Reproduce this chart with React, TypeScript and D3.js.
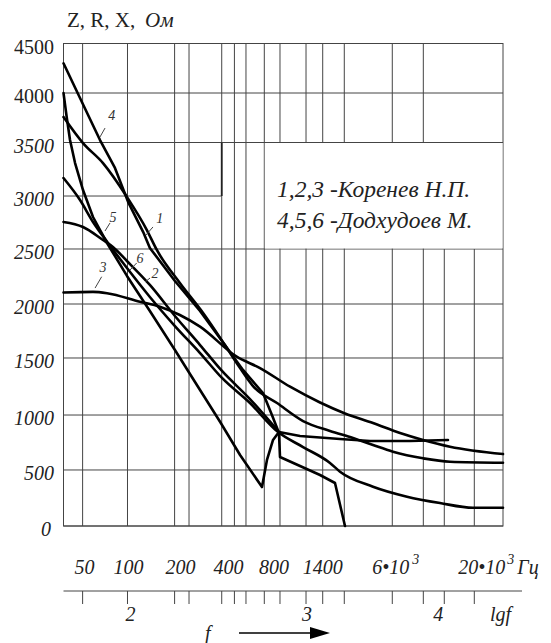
import React from 'react';
import * as d3 from 'd3';

const W = 551;
const H = 643;

// ---------- data ----------
// vertical grid lines of the (hand drawn, non-uniform) log-frequency axis, Hz
const gridFreqs = [50, 100, 200, 250, 350, 400, 500, 700, 800, 1000, 1400, 2000, 6000, 8000, 10000, 20000];
const fMin = 37;
const fMax = 39000;
const yTicks = [0, 500, 1000, 1500, 2000, 2500, 3000, 3500, 4000, 4500];
const yTickLabels = ['0', '500', '1000', '1500', '2000', '2500', '3000', '3500', '4000', '4500'];
const fTickValues = [50, 100, 200, 400, 800, 1400];
const fTickLabels = ['50', '100', '200', '400', '800', '1400'];
const lgTickValues = [100, 1000, 10000];
const lgTickLabels = ['2', '3', '4'];

// curves: frequency (Hz) and impedance (Ohm)
const c1F = [37, 50.3, 68.5, 99.2, 133, 154, 217, 289, 362, 446, 569, 780, 975, 1579, 2441, 3858, 6040, 7980, 11410, 39000];
const c1Z = [3758, 3495, 3308, 2991, 2679, 2491, 2191, 1917, 1620, 1412, 1254, 1105, 945, 855, 791, 727, 666, 606, 575, 566];

const c2F = [37, 48, 58.7, 74, 99.2, 139, 201, 280, 351, 538, 787, 975, 1579, 1863, 3858, 6878, 9554, 19410, 39000];
const c2Z = [3168, 2962, 2755, 2557, 2327, 2064, 1796, 1546, 1325, 1105, 845, 709, 564, 485, 351, 262, 205, 163, 163];

const c3F = [37, 58.7, 72.9, 120, 161, 217, 280, 418, 647, 872, 1326, 2032, 3858, 6447, 7980, 11410, 39000];
const c3Z = [2105, 2110, 2098, 2021, 1975, 1898, 1790, 1512, 1412, 1248, 1110, 1014, 927, 836, 773, 712, 645];

const c4F = [37, 54.3, 65.4, 82.4, 101, 126, 139, 201, 280, 351, 472, 683, 747, 793, 800, 950, 1326, 1715, 2032];
const c4Z = [4300, 3780, 3525, 3262, 2943, 2660, 2510, 2209, 1935, 1657, 1395, 1193, 1000, 836, 618, 536, 455, 384, 0];

const c5F = [37, 38.9, 41, 44.4, 50.3, 58.7, 72.9, 99.2, 139, 201, 280, 344, 446, 671, 716, 754, 793, 950, 1863, 3602, 7072, 10890];
const c5Z = [4000, 3758, 3525, 3308, 3056, 2802, 2557, 2255, 1935, 1574, 1219, 939, 636, 348, 591, 773, 845, 809, 782, 764, 764, 773];

const c6F = [37, 50.3, 68.5, 79.9, 99.2, 139, 201, 280, 351, 538, 787];
const c6Z = [2755, 2708, 2585, 2519, 2391, 2173, 1889, 1620, 1386, 1140, 855];

// curve number labels: text position and leader line (Hz, Ohm)
const labelText = ['4', '5', '1', '6', '2', '3'];
const labelF = [78.3, 79.9, 161, 120, 150, 68.5];
const labelZ = [3778, 2802, 2793, 2418, 2282, 2336];
const leadF0 = [70.7, 76.3, 145.5, 114.5, 139.3, 67.1];
const leadZ0 = [3646, 2745, 2708, 2373, 2236, 2248];
const leadF1 = [65.4, 70.7, 131.3, 103.8, 129.4, 60.6];
const leadZ1 = [3556, 2670, 2632, 2309, 2200, 2145];

const legendLines = ['1,2,3 -Коренев Н.П.', '4,5,6 -Додхудоев М.'];

// ---------- layout ----------
const L = 63.5;
const T = 43.5;
const PW = 439.5;
const PH = 482.5;
// where each break of the hand drawn axes falls, as a fraction of the plot
const xBreakFrac = [0, 0.0435, 0.1456, 0.2528, 0.2856, 0.36, 0.3889, 0.4152, 0.4569, 0.4926, 0.5518, 0.5898, 0.6389, 0.7481, 0.8187, 0.8664, 0.9347, 1];
const yBreakFrac = [1, 0.8839, 0.77, 0.6518, 0.5399, 0.4259, 0.3161, 0.2052, 0.1026, 0];
const fLabelNudge = [2, 1, 6, -6, -6, 0];
const lgLabelNudge = [3, 1, -6];

const FONT = 'Liberation Serif';
const GRID = '#444';

function T_(props: any) {
  const { italic, children, ...rest } = props;
  return (
    <text
      {...rest}
      fontFamily={FONT}
      fontStyle={italic ? 'italic' : 'normal'}
      style={{ fontFamily: "'" + FONT + "'", fontStyle: italic ? 'italic' : 'normal' }}
    >
      {children}
    </text>
  );
}

export default function App() {
  const xs = d3
    .scaleLinear()
    .domain([fMin, ...gridFreqs, fMax].map(Math.log10))
    .range(xBreakFrac.map((t) => L + t * PW));
  const x = (f: number) => xs(Math.log10(f));
  const y = d3
    .scaleLinear()
    .domain(yTicks)
    .range(yBreakFrac.map((t) => T + t * PH));

  const R = x(fMax);
  const B = y(0);

  const smooth = d3
    .line<[number, number]>()
    .x((d) => x(d[0]))
    .y((d) => y(d[1]))
    .curve(d3.curveMonotoneX);
  const straight = d3
    .line<[number, number]>()
    .x((d) => x(d[0]))
    .y((d) => y(d[1]))
    .curve(d3.curveLinear);

  const zip = (a: number[], b: number[]) => a.map((v, i) => [v, b[i]] as [number, number]);
  const curves = [
    smooth(zip(c1F, c1Z)),
    smooth(zip(c2F, c2Z)),
    smooth(zip(c3F, c3Z)),
    straight(zip(c4F, c4Z)),
    straight(zip(c5F, c5Z)),
    smooth(zip(c6F, c6Z)),
  ];

  const boxX0 = x(700);
  const boxY0 = y(3500);
  const boxY1 = y(2500);

  const axisY = 591;

  return (
    <svg width={W} height={H} style={{ position: 'absolute', left: 0, top: 0 }}>
      <rect x={0} y={0} width={W} height={H} fill="#fff" />

      {/* horizontal grid */}
      {yTicks.map((v) => (
        <line key={'h' + v} x1={L} x2={v === 3000 ? x(350) : R} y1={y(v)} y2={y(v)} stroke={GRID} strokeWidth={1} />
      ))}
      {/* vertical grid */}
      {gridFreqs.map((f) => (
        <line key={'v' + f} x1={x(f)} x2={x(f)} y1={f >= 10000 ? boxY1 : T} y2={B} stroke={GRID} strokeWidth={1} />
      ))}
      <line x1={x(350)} x2={x(350)} y1={y(3500)} y2={y(3000)} stroke="#222" strokeWidth={1.8} />
      {/* frame */}
      <rect x={L} y={T} width={R - L} height={B - T} fill="none" stroke={GRID} strokeWidth={1} />

      {/* legend box */}
      <rect x={boxX0 + 0.5} y={boxY0 + 0.5} width={R - boxX0 - 1} height={boxY1 - boxY0 - 1} fill="#fff" />
      {legendLines.map((t, i) => (
        <T_ key={t} x={277} y={197 + i * 31} fontSize={23.5} fill="#222" italic>
          {t}
        </T_>
      ))}

      {/* curves */}
      {curves.map((d, i) => (
        <path key={i} d={d || ''} fill="none" stroke="#000" strokeWidth={2.6} strokeLinejoin="round" strokeLinecap="round" />
      ))}

      {/* curve labels */}
      {labelText.map((t, i) => (
        <g key={'lab' + i}>
          <line x1={x(leadF0[i])} y1={y(leadZ0[i])} x2={x(leadF1[i])} y2={y(leadZ1[i])} stroke="#444" strokeWidth={1} />
          <T_ x={x(labelF[i])} y={y(labelZ[i]) + 5} fontSize={14} textAnchor="middle" fill="#333" italic>
            {t}
          </T_>
        </g>
      ))}

      {/* y tick labels */}
      {yTicks.map((v, i) => (
        <T_ key={'yl' + v} x={v === 0 ? 51 : 54} y={y(v) + 10} fontSize={20} textAnchor="end" fill="#222" italic={v < 4000}>
          {yTickLabels[i]}
        </T_>
      ))}

      {/* axis title */}
      <T_ x={67} y={27} fontSize={21} fill="#222">
        Z, R, X,
      </T_>
      <T_ x={145} y={27} fontSize={21} fill="#222" italic>
        Ом
      </T_>

      {/* lower frequency axis */}
      <line x1={L} x2={522} y1={axisY} y2={axisY} stroke={GRID} strokeWidth={1} />
      {gridFreqs.map((f) => (
        <line key={'t' + f} x1={x(f)} x2={x(f)} y1={axisY} y2={axisY + 13} stroke={GRID} strokeWidth={1} />
      ))}
      {fTickValues.map((f, i) => (
        <T_ key={'fl' + f} x={x(f) + fLabelNudge[i]} y={574} fontSize={20} textAnchor="middle" fill="#222" italic>
          {fTickLabels[i]}
        </T_>
      ))}
      <T_ x={x(6000) - 20} y={574} fontSize={20} fill="#222" italic>
        6•10
        <tspan dy={-10} dx={3} fontSize={14}>
          3
        </tspan>
      </T_>
      <T_ x={x(20000) - 16} y={574} fontSize={20} fill="#222" italic>
        20•10
        <tspan dy={-10} dx={2} fontSize={14}>
          3
        </tspan>
        <tspan dy={10} dx={3}>
          Гц
        </tspan>
      </T_>
      {lgTickValues.map((f, i) => (
        <T_ key={'lg' + f} x={x(f) + lgLabelNudge[i]} y={621} fontSize={20} textAnchor="middle" fill="#222" italic>
          {lgTickLabels[i]}
        </T_>
      ))}
      <T_ x={490} y={621} fontSize={20} fill="#222" italic>
        lgf
      </T_>

      {/* f arrow */}
      <T_ x={205} y={640} fontSize={20} fill="#222" italic>
        f
      </T_>
      <line x1={239} x2={312} y1={633} y2={633} stroke="#000" strokeWidth={1.5} />
      <polygon points="310,627 330,633 310,639" fill="#000" />
    </svg>
  );
}
